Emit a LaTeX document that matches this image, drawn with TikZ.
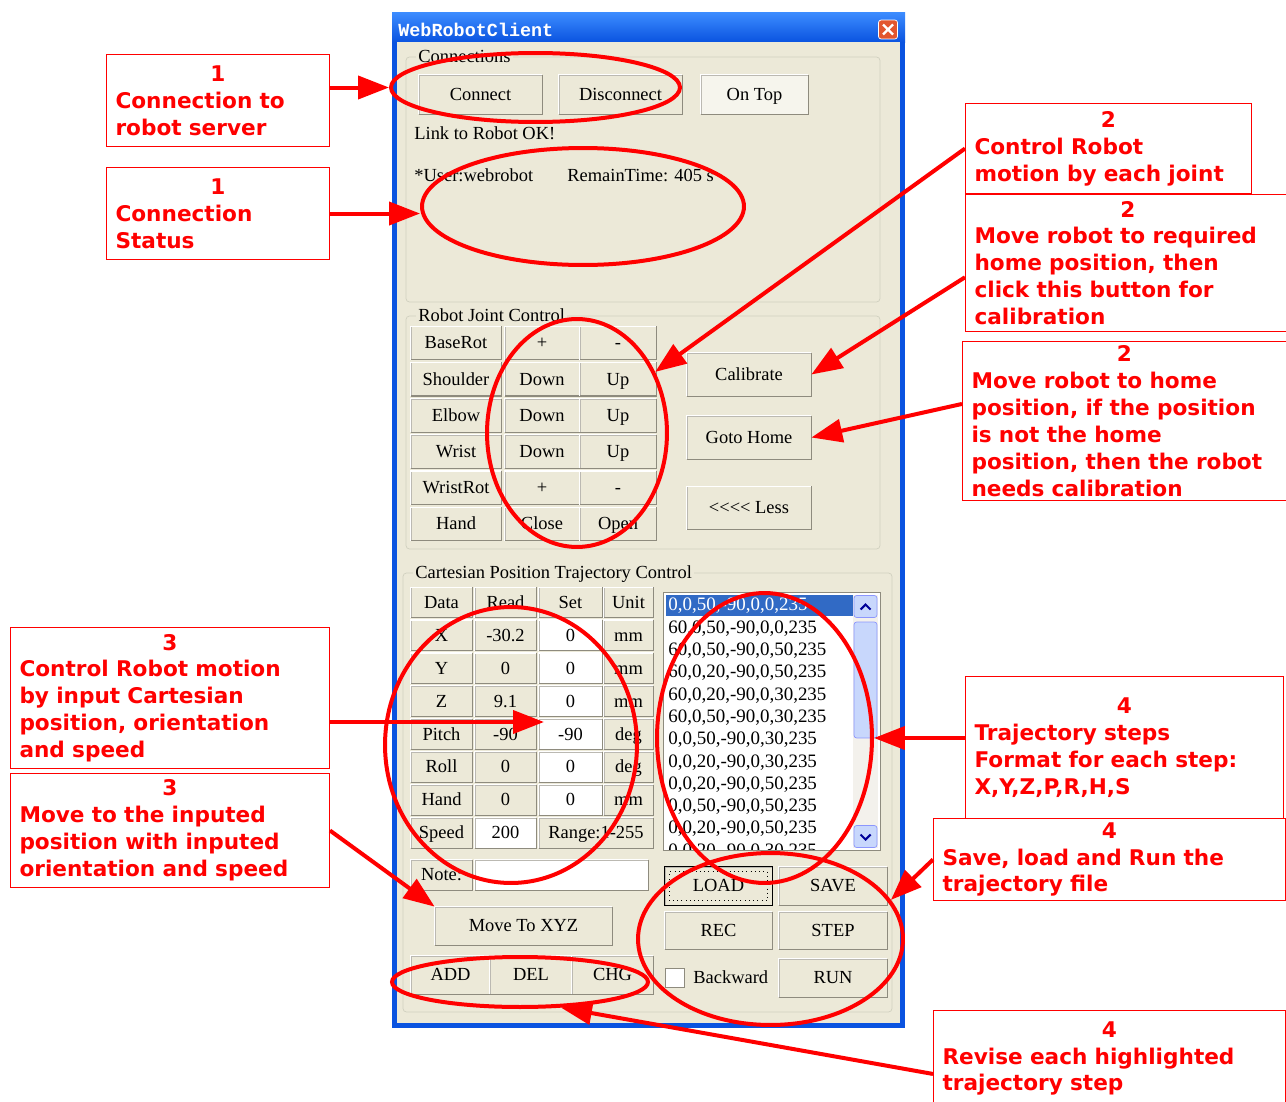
\documentclass[tikz,border=0pt]{standalone}
\usepackage{fontspec}
\usepackage{tikz}
\usetikzlibrary{arrows.meta}
\usetikzlibrary{shapes.geometric}
\newfontfamily\uifont{Liberation Serif}
\newfontfamily\notefont{DejaVu Sans}
\newfontfamily\titlefont{Liberation Mono}
\definecolor{winbeige}{HTML}{ECE9D8}
\definecolor{winblue}{HTML}{0A53E0}
\definecolor{titletop}{HTML}{3D8DFF}
\definecolor{closered}{HTML}{E2562F}
\definecolor{btnshade}{HTML}{8E8B7E}
\definecolor{grpline}{HTML}{D0D0BF}
\definecolor{selblue}{HTML}{316AC5}
\definecolor{scrolltrack}{HTML}{F3F1EC}
\definecolor{scrollfill}{HTML}{C8D7FC}
\definecolor{markred}{HTML}{FF0000}
\tikzstyle{button} = [draw=btnshade!60, fill=winbeige, inner sep=0pt,
	text height=0.9em, text depth=0.22em,
	font=\uifont\fontsize{10.5}{12}\selectfont]
\tikzstyle{field} = [button, fill=white]
\tikzstyle{pressed} = [button, fill=winbeige!45!white]
\tikzstyle{uitext} = [anchor=west, inner sep=0pt, text height=0.9em, text depth=0.22em,
	font=\uifont\fontsize{10.5}{12}\selectfont]
\tikzstyle{listtext} = [uitext, font=\uifont\fontsize{10.8}{12}\selectfont]
\tikzstyle{grplabel} = [uitext, fill=winbeige, inner xsep=0.04cm]
\tikzstyle{scrollbtn} = [draw=scrollfill!70!blue, fill=scrollfill, rounded corners=1.5pt,
	minimum width=0.46cm, minimum height=0.44cm, inner sep=0pt]
\tikzstyle{ring} = [draw=markred, ellipse, line width=0.08cm, inner sep=0pt]
\tikzstyle{note} = [draw=markred, line width=0.6pt, anchor=north west, align=left,
	inner xsep=0.18cm, inner ysep=0.06cm, text=markred,
	font=\notefont\bfseries\fontsize{12.3}{15.3}\selectfont]
\tikzstyle{pointer} = [-{Triangle[length=0.62cm, width=0.46cm]}, markred, line width=0.08cm]
\newcommand{\uibox}[7][button]{\node[#1,
	minimum width=#5*0.02cm,
	minimum height=#6*0.02cm
	] (#2) at (#3,#4) {#7};
	\draw[btnshade, line width=0.7pt] (#2.south west) -| (#2.north east);
	\draw[white, line width=0.7pt] (#2.south west) |- (#2.north east)}

\begin{document}
\begin{tikzpicture}[x=0.02cm, y=-0.02cm]
	\useasboundingbox (0,0) rectangle (1286,1102);
	\clip (0,0) rectangle (1286,1102);
	\fill[white] (0,0) rectangle (1286,1102);
	
	% window frame
	\fill[winblue] (392,12) rectangle (905,1028);
	\shade[top color=titletop, bottom color=winblue] (392,12) rectangle (905,42);
	\fill[winbeige] (397,42) rectangle (900,1023);
	\node[anchor=west, text=white, inner sep=0pt, font=\titlefont\bfseries\fontsize{10.5}{12}\selectfont] (title) at (398,30) {WebRobotClient};
	\node[draw=white, fill=closered, rounded corners=1.5pt, minimum size=0.38cm, inner sep=0pt] (closeBtn) at (888,29.5) {};
	\draw[white, line width=1.4pt] ([shift={(-5,-5)}]closeBtn.center) -- ([shift={(5,5)}]closeBtn.center)
		([shift={(-5,5)}]closeBtn.center) -- ([shift={(5,-5)}]closeBtn.center);
	
	% connections
	\draw[grpline, rounded corners=2pt] (406,57) rectangle (880,302);
	\node[grplabel] (connGrp) at (416,57) {Connections};
	\uibox{connect}{480.5}{94.5}{123}{39}{Connect};
	\uibox{disconnect}{620.5}{94.5}{123}{39}{Disconnect};
	\uibox[pressed]{ontop}{754.5}{94.5}{107}{39}{On Top};
	\node[uitext] (linkMsg) at (414,134) {Link to Robot OK!};
	\node[uitext] (userMsg) at (414,176) {*User:webrobot};
	\node[uitext] (timeMsg) at (567,176) {RemainTime: 405 s};
	
	% joint control
	\draw[grpline, rounded corners=2pt] (406,316) rectangle (880,549);
	\node[grplabel] (jointGrp) at (416,316) {Robot Joint Control};
	\foreach \jname/\bdown/\bup [count=\i from 0] in {BaseRot/+/-, Shoulder/Down/Up, Elbow/Down/Up, Wrist/Down/Up, WristRot/+/-, Hand/Close/Open}{
		\uibox{jlabel\i}{456}{343+36.2*\i}{90}{33}{\jname};
		\uibox{jdown\i}{542}{343+36.2*\i}{74}{33}{\bdown};
		\uibox{jup\i}{618}{343+36.2*\i}{76}{33}{\bup};
	}
	\uibox{calibrate}{749}{374.5}{124}{43}{Calibrate};
	\uibox{gohome}{749}{437.5}{124}{43}{Goto Home};
	\uibox{less}{749}{508}{124}{43}{<<<< Less};
	
	% cartesian control
	\draw[grpline, rounded corners=2pt] (403,573) rectangle (892,1012);
	\node[grplabel] (cartGrp) at (413,573) {Cartesian Position Trajectory Control};
	\foreach \head/\cx/\cw [count=\c] in {Data/441.5/61, Read/505.5/61, Set/570.5/63, Unit/628.5/49}
		\uibox{head\c}{\cx}{602.5}{\cw}{30}{\head};
	\foreach \dname/\dread/\dset/\dunit [count=\i from 1] in {X/-30.2/0/mm, Y/0/0/mm, Z/9.1/0/mm, Pitch/-90/-90/deg, Roll/0/0/deg, Hand/0/0/mm}{
		\uibox{dname\i}{441.5}{602.5+32.9*\i}{61}{30}{\dname};
		\uibox{dread\i}{505.5}{602.5+32.9*\i}{61}{30}{\dread};
		\uibox[field]{dset\i}{570.5}{602.5+32.9*\i}{63}{30}{\dset};
		\uibox{dunit\i}{628.5}{602.5+32.9*\i}{49}{30}{\dunit};
	}
	\uibox{speedLbl}{441.5}{833}{61}{30}{Speed};
	\uibox[field]{speedVal}{505.5}{833}{61}{30}{200};
	\uibox{range}{596}{833}{114}{30}{Range:1-255};
	
	% trajectory list
	\node[draw=btnshade, fill=white, anchor=north west, inner sep=0pt,
		minimum width=4.34cm, minimum height=5.16cm] (trajList) at (663,592) {};
	\fill[selblue] (666,595) rectangle (853,616);
	\fill[scrolltrack] (853,595) rectangle (878,848);
	\node[scrollbtn] (scrollUp) at (865.5,606.5) {};
	\node[scrollbtn, minimum height=2.32cm] (scrollThumb) at (865.5,680) {};
	\node[scrollbtn] (scrollDown) at (865.5,836.5) {};
	\draw[blue!60!black, line width=1.2pt] ([shift={(-5,3)}]scrollUp.center) -- ([shift={(0,-2)}]scrollUp.center) -- ([shift={(5,3)}]scrollUp.center);
	\draw[blue!60!black, line width=1.2pt] ([shift={(-5,-2)}]scrollDown.center) -- ([shift={(0,3)}]scrollDown.center) -- ([shift={(5,-2)}]scrollDown.center);
	\begin{scope}
		\clip (666,595) rectangle (853,849);
		\node[listtext, text=white] (item0) at (668,605) {0,0,50,-90,0,0,235};
		\foreach \step [count=\i from 1] in {{60,0,50,-90,0,0,235}, {60,0,50,-90,0,50,235}, {60,0,20,-90,0,50,235}, {60,0,20,-90,0,30,235}, {60,0,50,-90,0,30,235}, {0,0,50,-90,0,30,235}, {0,0,20,-90,0,30,235}, {0,0,20,-90,0,50,235}, {0,0,50,-90,0,50,235}, {0,0,20,-90,0,50,235}, {0,0,20,-90,0,30,235}}
			\node[listtext] (item\i) at (668,605+22.3*\i) {\step};
	\end{scope}
	
	% buttons below
	\uibox{noteLbl}{441.5}{875}{61}{30}{Note:};
	\uibox[field]{noteField}{561.5}{875}{173}{30}{};
	\uibox{moveXYZ}{523.5}{926}{177}{38}{Move To XYZ};
	\uibox{addBtn}{450.5}{975}{79}{38}{ADD};
	\uibox{delBtn}{531}{975}{82}{38}{DEL};
	\uibox{chgBtn}{612.5}{975}{81}{38}{CHG};
	\uibox{loadBtn}{718.5}{886}{107}{38}{LOAD};
	\draw[black, line width=0.8pt] (loadBtn.south west) rectangle (loadBtn.north east);
	\draw[dotted] ([shift={(5,-5)}]loadBtn.south west) rectangle ([shift={(-5,5)}]loadBtn.north east);
	\uibox{saveBtn}{833}{886}{108}{38}{SAVE};
	\uibox{recBtn}{718.5}{930.5}{107}{37}{REC};
	\uibox{stepBtn}{833}{930.5}{108}{37}{STEP};
	\node[draw=btnshade, fill=white, minimum size=0.38cm, inner sep=0pt] (backBox) at (674.5,978) {};
	\node[uitext] (backLbl) at (693,978) {Backward};
	\uibox{runBtn}{833}{978}{108}{38}{RUN};
	
	% red rings
	\node[ring, minimum width=5.78cm, minimum height=1.38cm] (connEll) at (535.5,87.5) {};
	\node[ring, minimum width=6.44cm, minimum height=2.34cm] (statusEll) at (583,206.5) {};
	\node[ring, minimum width=3.6cm, minimum height=4.56cm] (jointEll) at (577,433) {};
	\node[ring, minimum width=5.04cm, minimum height=5.52cm] (cartEll) at (511,745) {};
	\node[ring, minimum width=4.3cm, minimum height=5.8cm] (listEll) at (764.5,738) {};
	\node[ring, minimum width=5.3cm, minimum height=3.44cm] (loadEll) at (770.5,939) {};
	\node[ring, minimum width=5.12cm, minimum height=1cm] (addEll) at (520,982) {};
	
	% notes
	\node[note, text width=4.1cm, minimum width=4.46cm, minimum height=1.84cm] (boxA) at (106,54) {\centerline{1}\\Connection to\\robot server};
	\node[note, text width=4.1cm, minimum width=4.46cm, minimum height=1.84cm] (boxB) at (106,167) {\centerline{1}\\Connection\\Status};
	\node[note, text width=5.36cm, minimum width=5.72cm, minimum height=1.8cm] (boxC) at (965,103) {\centerline{2}\\Control Robot\\motion by each joint};
	\node[note, text width=6.14cm, minimum width=6.5cm, minimum height=2.74cm] (boxD) at (965,194) {\centerline{2}\\Move robot to required\\home position, then\\click this button for\\calibration};
	\node[note, text width=6.12cm, minimum width=6.48cm, minimum height=3.18cm] (boxE) at (962,341) {\centerline{2}\\Move robot to home\\position, if the position\\is not the home\\position, then the robot\\needs calibration};
	\node[note, text width=6.02cm, minimum width=6.38cm, minimum height=2.82cm] (boxF) at (10,627) {\centerline{3}\\Control Robot motion\\by input Cartesian\\position, orientation\\and speed};
	\node[note, text width=6.02cm, minimum width=6.38cm, minimum height=2.28cm] (boxG) at (10,773) {\centerline{3}\\Move to the inputed\\position with inputed\\orientation and speed};
	\node[note, text width=6.0cm, minimum width=6.36cm, minimum height=2.84cm] (boxH) at (965,676) {\centerline{4}\\Trajectory steps\\Format for each step:\\X,Y,Z,P,R,H,S};
	\node[note, text width=6.68cm, minimum width=7.04cm, minimum height=1.64cm] (boxI) at (933,818) {\centerline{4}\\Save, load and Run the\\trajectory file};
	\node[note, text width=6.68cm, minimum width=7.04cm, minimum height=1.92cm] (boxJ) at (933,1010) {\centerline{4}\\Revise each highlighted\\trajectory step};
	
	% pointers
	\coordinate (pitchTip) at (544,722);
	\draw[pointer] (boxA.east |- connEll.west) -- (connEll.west);
	\draw[pointer] (boxB.east) -- (boxB.east -| statusEll.west);
	\draw[pointer] (boxC.west) -- (jointEll.38);
	\draw[pointer] (boxD.185) -- (calibrate.east);
	\draw[pointer] (boxE.174) -- (gohome.east);
	\draw[pointer] (boxF.east |- pitchTip) -- (pitchTip);
	\draw[pointer] (boxG.east) -- (moveXYZ.north west);
	\draw[pointer] (listEll.east -| boxH.west) -- (listEll.east);
	\draw[pointer] (boxI.west) -- (loadEll.18);
	\draw[pointer] (boxJ.185) -- (addEll.-32);
	
\end{tikzpicture}
\end{document}
